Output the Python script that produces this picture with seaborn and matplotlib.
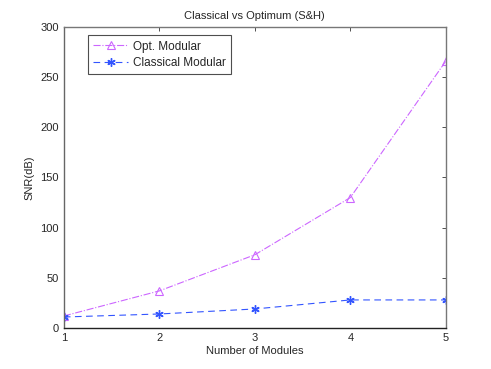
import numpy as np
import pandas as pd
import matplotlib
matplotlib.use('Agg')
import matplotlib.pyplot as plt
import seaborn as sns

# ── Data ─────────────────────────────────────────────────────
modules = [1, 2, 3, 4, 5]
opt_snr = [12, 37, 73, 130, 266]
classical_snr = [11, 14, 19, 28, 28]

OPT_COLOR = '#cc66ff'
CLS_COLOR = '#3355ff'

sns.set_style('white')
plt.rcParams['font.family'] = ['Liberation Sans', 'DejaVu Sans']
plt.rcParams['xtick.direction'] = 'in'
plt.rcParams['ytick.direction'] = 'in'

df = pd.DataFrame({'Modules': modules, 'Opt': opt_snr, 'Classical': classical_snr})

fig = plt.figure(figsize=(4.91, 3.69), dpi=100)
ax = fig.add_axes([0.130, 0.111, 0.778, 0.816])

sns.lineplot(data=df, x='Modules', y='Opt', ax=ax, color=OPT_COLOR,
             linestyle='-.', linewidth=0.8, marker='^', markersize=6,
             markerfacecolor='none', markeredgecolor=OPT_COLOR,
             markeredgewidth=0.8, label='Opt. Modular')
sns.lineplot(data=df, x='Modules', y='Classical', ax=ax, color=CLS_COLOR,
             linestyle=(0, (6, 4)), linewidth=0.8, marker=(6, 2, 0), markersize=6,
             markeredgecolor=CLS_COLOR, markeredgewidth=1.0,
             label='Classical Modular')

ax.set_xlim(1, 5)
ax.set_ylim(0, 300)
ax.set_xticks(modules)
ax.set_yticks(range(0, 301, 50))
ax.tick_params(labelsize=8, length=3, width=0.6, top=True, right=True,
               color='#333333')
for s in ax.spines.values():
    s.set_color('#777777')
    s.set_linewidth(1.0)
ax.spines['bottom'].set_color('#222222')
ax.spines['left'].set_color('#666666')

ax.set_xlabel('Number of Modules', fontsize=8, labelpad=2)
ax.set_ylabel('SNR(dB)', fontsize=8, labelpad=4)
ax.set_title('Classical vs Optimum (S&H)', fontsize=8, pad=6)

leg = ax.legend(loc='upper left', bbox_to_anchor=(0.047, 0.992), fontsize=8.5,
                frameon=True, fancybox=False, handlelength=3,
                borderpad=0.45, labelspacing=0.35, handletextpad=0.4)
leg.get_frame().set_edgecolor('#222222')
leg.get_frame().set_linewidth(0.8)

fig.savefig('out.png', dpi=100)
